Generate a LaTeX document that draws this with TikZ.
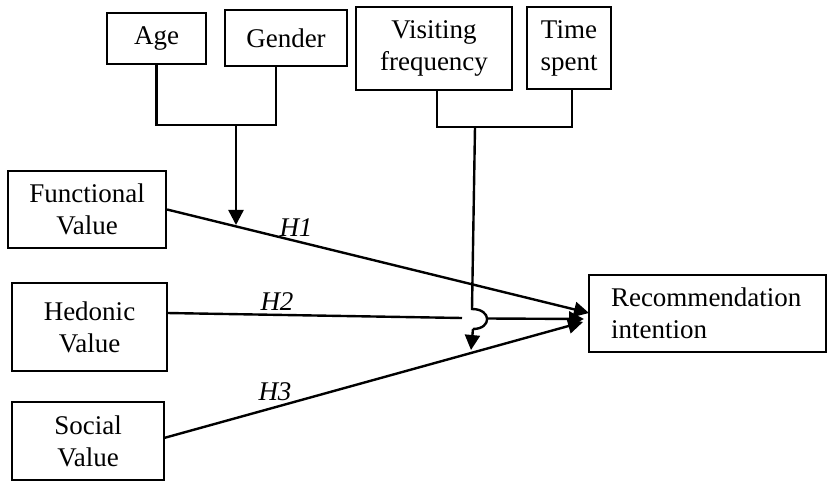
\documentclass[tikz,border=0pt]{standalone}
\usepackage{fontspec}
\setmainfont{Liberation Serif}
\usetikzlibrary{arrows.meta,calc}
\begin{document}
\begin{tikzpicture}[x=1pt,y=-1pt,
  box/.style={draw,line width=2.2pt,inner sep=0pt,align=center,font=\fontsize{27}{32}\selectfont},
  conn/.style={line width=2.4pt},
  arr/.style={conn,-{Triangle[length=15pt,width=15pt]}},
  hyp/.style={font=\fontsize{27}{32}\selectfont\itshape}]
\useasboundingbox (0,0) rectangle (827,481);
\node[box,minimum width=99pt,minimum height=51pt] (age) at (156.5,38.5) {Age};
\node[box,minimum width=122pt,minimum height=56pt] (gender) at (286,38) {Gender};
\node[box,minimum width=156pt,minimum height=83pt] (visit) at (434,48.5) {Visiting\\frequency};
\node[box,minimum width=84pt,minimum height=82pt] (time) at (569,48) {Time\\spent};
\node[box,minimum width=158pt,minimum height=77pt] (func) at (87,209.5) {Functional\\Value};
\node[box,minimum width=155pt,minimum height=88pt] (hed) at (89.5,327) {Hedonic\\Value};
\node[box,minimum width=152pt,minimum height=78pt] (soc) at (88,441) {Social\\Value};
\node[box,minimum width=237pt,minimum height=77pt,text width=193pt,align=left,inner xsep=22pt] (rec) at (707.5,313.5) {Recommendation\\intention};
% moderators
\coordinate (ag) at (236,125);
\coordinate (h1m) at (236,225);
\draw[conn] (age.south) |- (ag) -| ([xshift=-10pt]gender.south);
\draw[arr] (ag) -- (h1m);
\coordinate (vm) at (475,127);
\coordinate (hopa) at (472,309);
\coordinate (hopb) at (473,329);
\coordinate (h3m) at (471,350);
\draw[conn] ([xshift=3pt]visit.south) |- (vm) -| ([xshift=3pt]time.south);
\draw[conn] (vm) -- (hopa) .. controls (492,309) and (492,329) .. (hopb);
\draw[arr] (hopb) -- (h3m);
% hypotheses
\coordinate (h1e) at (589,313);
\coordinate (h2s) at (167,313);
\coordinate (h2g1) at (462,318);
\coordinate (h2g2) at (487,318.5);
\coordinate (h2e) at (584,319);
\coordinate (h3s) at (164,438);
\coordinate (h3e) at (583,322);
\draw[arr] (func.east) -- (h1e);
\draw[conn] (h2s) -- (h2g1);
\draw[arr] (h2g2) -- (h2e);
\draw[arr] (h3s) -- (h3e);
\node[hyp] (lh1) at (296,228) {H1};
\node[hyp] (lh2) at (277,302) {H2};
\node[hyp] (lh3) at (275,392) {H3};
\end{tikzpicture}
\end{document}
